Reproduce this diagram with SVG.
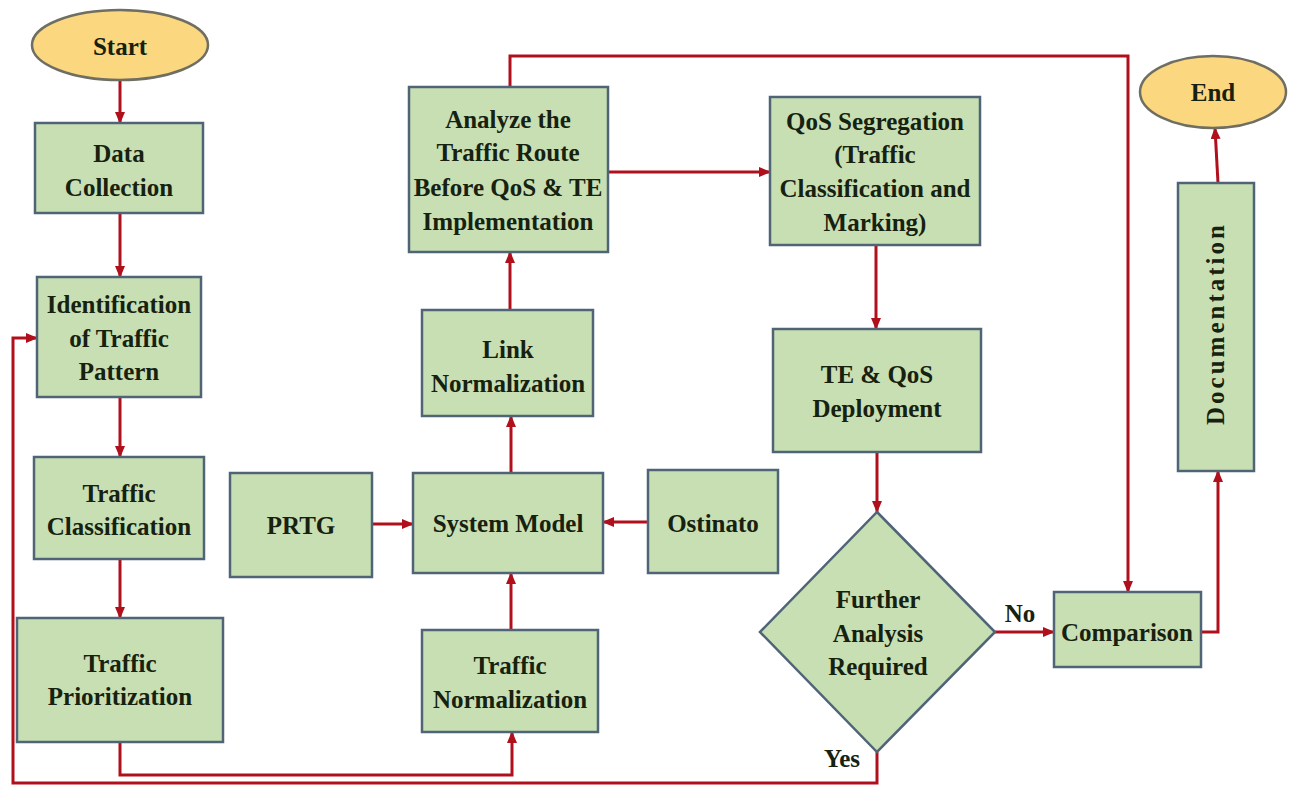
<svg xmlns="http://www.w3.org/2000/svg" width="1289" height="786" viewBox="0 0 1289 786">
<defs>
<marker id="ah" markerUnits="userSpaceOnUse" markerWidth="12" markerHeight="10" refX="11" refY="5" orient="auto">
<path d="M0,0 L12,5 L0,10 Z" fill="#b0101c"/>
</marker>
<style>
.box{fill:#c7dfb3;stroke:#4f6577;stroke-width:2.5}
.term{fill:#fbd77f;stroke:#6e6e62;stroke-width:2.5}
.t{font-family:"Liberation Serif","Times New Roman",serif;font-weight:bold;font-size:25px;fill:#17210f;text-anchor:middle}
.c{fill:none;stroke:#b0101c;stroke-width:3}
.ca{fill:none;stroke:#b0101c;stroke-width:3;marker-end:url(#ah)}
</style>
</defs>
<rect width="1289" height="786" fill="#ffffff"/>

<g id="connectors">
<line class="ca" x1="120" y1="80" x2="120" y2="123"/>
<line class="ca" x1="120" y1="213" x2="120" y2="277"/>
<line class="ca" x1="120" y1="397" x2="120" y2="457"/>
<line class="ca" x1="120" y1="559" x2="120" y2="618"/>
<path class="ca" d="M120,742 V775 H512 V732"/>
<line class="ca" x1="511" y1="630" x2="511" y2="573"/>
<line class="ca" x1="511" y1="473" x2="511" y2="416"/>
<line class="ca" x1="510" y1="310" x2="510" y2="252"/>
<line class="ca" x1="372" y1="524" x2="413" y2="524"/>
<line class="ca" x1="648" y1="522" x2="603" y2="522"/>
<line class="ca" x1="608" y1="172" x2="770" y2="172"/>
<path class="ca" d="M510,87 V56 H1128 V592"/>
<line class="ca" x1="876" y1="245" x2="876" y2="329"/>
<line class="ca" x1="877" y1="452" x2="877" y2="512"/>
<line class="ca" x1="995" y1="632" x2="1054" y2="632"/>
<path class="ca" d="M1201,632 H1218 V471"/>
<line class="ca" x1="1218" y1="183" x2="1215" y2="128"/>
<path class="ca" d="M877,752 V783 H13 V338 H37"/>
<text class="t" x="1020" y="622">No</text>
<text class="t" x="842" y="767">Yes</text>
</g>

<g id="start">
<ellipse class="term" cx="120" cy="45" rx="88" ry="35"/>
<text class="t" x="120" y="55" font-size="23">Start</text>
</g>

<g id="data-collection">
<rect class="box" x="35" y="123" width="168" height="90"/>
<text class="t" x="119" y="162">Data</text>
<text class="t" x="119" y="196">Collection</text>
</g>

<g id="identification">
<rect class="box" x="37" y="277" width="164" height="120"/>
<text class="t" x="119" y="313">Identification</text>
<text class="t" x="119" y="347">of Traffic</text>
<text class="t" x="119" y="380">Pattern</text>
</g>

<g id="traffic-classification">
<rect class="box" x="34" y="457" width="170" height="102"/>
<text class="t" x="119" y="502">Traffic</text>
<text class="t" x="119" y="535">Classification</text>
</g>

<g id="traffic-prioritization">
<rect class="box" x="17" y="618" width="206" height="124"/>
<text class="t" x="120" y="672">Traffic</text>
<text class="t" x="120" y="705">Prioritization</text>
</g>

<g id="prtg">
<rect class="box" x="230" y="473" width="142" height="104"/>
<text class="t" x="301" y="534">PRTG</text>
</g>

<g id="system-model">
<rect class="box" x="413" y="473" width="190" height="100"/>
<text class="t" x="508" y="532">System Model</text>
</g>

<g id="ostinato">
<rect class="box" x="648" y="470" width="130" height="103"/>
<text class="t" x="713" y="532">Ostinato</text>
</g>

<g id="traffic-normalization">
<rect class="box" x="422" y="630" width="176" height="102"/>
<text class="t" x="510" y="674">Traffic</text>
<text class="t" x="510" y="708">Normalization</text>
</g>

<g id="link-normalization">
<rect class="box" x="422" y="310" width="171" height="106"/>
<text class="t" x="508" y="358">Link</text>
<text class="t" x="508" y="392">Normalization</text>
</g>

<g id="analyze">
<rect class="box" x="409" y="87" width="199" height="165"/>
<text class="t" x="508" y="128">Analyze the</text>
<text class="t" x="508" y="161">Traffic Route</text>
<text class="t" x="508" y="196">Before QoS &amp; TE</text>
<text class="t" x="508" y="230">Implementation</text>
</g>

<g id="qos-segregation">
<rect class="box" x="770" y="97" width="210" height="148"/>
<text class="t" x="875" y="130">QoS Segregation</text>
<text class="t" x="875" y="163">(Traffic</text>
<text class="t" x="875" y="197">Classification and</text>
<text class="t" x="875" y="231">Marking)</text>
</g>

<g id="te-qos-deployment">
<rect class="box" x="773" y="329" width="208" height="123"/>
<text class="t" x="877" y="383">TE &amp; QoS</text>
<text class="t" x="877" y="417">Deployment</text>
</g>

<g id="further-analysis">
<polygon class="box" points="877,512 995,632 877,752 760,632"/>
<text class="t" x="878" y="608">Further</text>
<text class="t" x="878" y="642">Analysis</text>
<text class="t" x="878" y="675">Required</text>
</g>

<g id="comparison">
<rect class="box" x="1054" y="592" width="147" height="75"/>
<text class="t" x="1127" y="641">Comparison</text>
</g>

<g id="documentation">
<rect class="box" x="1178" y="183" width="76" height="288"/>
<text class="t" x="0" y="0" font-size="23" textLength="200" lengthAdjust="spacing" transform="translate(1224,325) rotate(-90)">Documentation</text>
</g>

<g id="end">
<ellipse class="term" cx="1213" cy="92" rx="73" ry="36"/>
<text class="t" x="1213" y="101" font-size="23">End</text>
</g>
</svg>
